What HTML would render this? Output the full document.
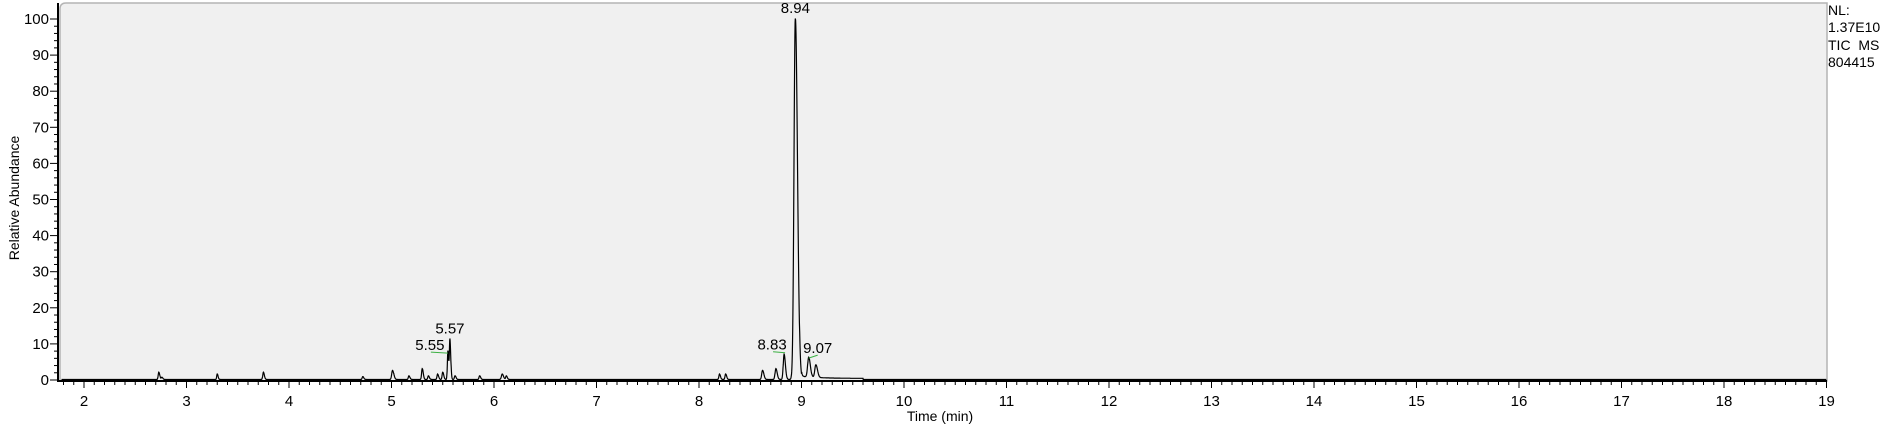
<!DOCTYPE html>
<html><head><meta charset="utf-8">
<style>
html,body{margin:0;padding:0;background:#fff;}
body{width:1885px;height:425px;overflow:hidden;font-family:"Liberation Sans",Arial,sans-serif;}
svg text{font-family:"Liberation Sans",Arial,sans-serif;white-space:pre;}
</style></head>
<body>
<svg id="chart" width="1885" height="425" xmlns="http://www.w3.org/2000/svg">
<path d="M60,381 L60,9 Q60,3 66,3 L1827,3 L1827,381 Z" fill="#f0f0f0" stroke="#b4b4b4" stroke-width="1.5"/>
<g id="ticks"></g>
<path id="trace" fill="none" stroke="#000" stroke-width="1.2"/>
<g id="labels"></g>
<text x="940" y="421" font-size="14" text-anchor="middle">Time (min)</text>
<text x="19" y="198" font-size="14" text-anchor="middle" transform="rotate(-90 19 198)">Relative Abundance</text>
<text x="1828" y="15" font-size="14">NL:</text>
<text x="1828" y="32" font-size="14">1.37E10</text>
<text x="1828" y="50" font-size="14" xml:space="preserve">TIC  MS</text>
<text x="1828" y="67" font-size="14">804415</text>
</svg>
<script>
const xTicks=[2,3,4,5,6,7,8,9,10,11,12,13,14,15,16,17,18,19];
const yTicks=[0,10,20,30,40,50,60,70,80,90,100];
const peakTimes=[2.73,2.76,3.30,3.75,4.72,5.01,5.17,5.30,5.36,5.45,5.50,5.55,5.57,5.62,5.86,6.08,6.12,8.20,8.26,8.62,8.75,8.83,8.94,9.07,9.14];
const peakHeights=[2.0,0.6,1.5,2.0,0.8,2.5,1.0,3.0,1.0,1.5,2.0,8.0,11.0,1.0,1.0,1.5,1.0,1.5,1.5,2.5,3.0,7.0,100,5.5,3.5];
const peakWidths=[0.006,0.006,0.005,0.006,0.006,0.008,0.006,0.006,0.006,0.006,0.006,0.005,0.005,0.006,0.006,0.008,0.006,0.006,0.006,0.008,0.008,0.008,0.013,0.01,0.01];
const labelTimes=[5.55,5.57,8.83,8.94,9.07];
const labelHeights=[8.0,11.0,7.0,100,5.5];
const tailStart=9.0, tailEnd=9.6, tailLevel=0.6;

const X0=84, PX=102.5, Y0=380, PY=3.61;
const xs=t=>X0+(t-2)*PX;
const ys=v=>Y0-v*PY;
const NS="http://www.w3.org/2000/svg";
const tg=document.getElementById('ticks');
function line(x1,y1,x2,y2,name,w,parent,color){
  const l=document.createElementNS(NS,'line');
  l.setAttribute('x1',x1);l.setAttribute('y1',y1);l.setAttribute('x2',x2);l.setAttribute('y2',y2);
  l.setAttribute('stroke',color||'#000');l.setAttribute('stroke-width',w||1);
  
  
  (parent||tg).appendChild(l);return l;
}
function txt(x,y,s,anchor,name,parent,size){
  const t=document.createElementNS(NS,'text');
  t.setAttribute('x',x);t.setAttribute('y',y);t.setAttribute('font-size',size||15);
  t.setAttribute('text-anchor',anchor);t.textContent=s;
  
  
  parent.appendChild(t);return t;
}
line(58,3,58,382,'y-axis-line',2);
line(58,381,1827,381,'x-axis-line',2);
for(let i=18;i<=190;i++){
  const t=i/10;const x=xs(t);
  if(x<59||x>1827)continue;
  const major=(i%10===0);
  line(x,381,x,major?388:385,major?'x-major-tick':'x-minor-tick',1);
}
xTicks.forEach(t=>{txt(xs(t),406,String(t),'middle','x-tick-label',tg);});
for(let v=0;v<=100;v+=2){
  const major=(v%10===0);
  line(major?50:54,ys(v),58,ys(v),major?'y-major-tick':'y-minor-tick',1);
}
yTicks.forEach(v=>{txt(49,ys(v)+5,String(v),'end','y-tick-label',tg);});
let d='';
for(let t=1.78;t<=19.0;t+=0.002){
  let v=0.15;
  for(let k=0;k<peakTimes.length;k++){
    const dt=t-peakTimes[k];const w=peakWidths[k]*(dt>0?1.6:1);
    if(Math.abs(dt)<w*6)v+=peakHeights[k]*Math.exp(-dt*dt/(2*w*w));
  }
  if(t>tailStart&&t<tailEnd)v+=tailLevel*Math.exp(-(t-tailStart)*6)+0.3;
  const x=xs(t);if(x<60)continue;
  d+=(d?'L':'M')+x.toFixed(1)+','+ys(v).toFixed(1);
}
document.getElementById('trace').setAttribute('d',d);
const lg=document.getElementById('labels');
labelTimes.forEach((t,i)=>{
  const h=labelHeights[i];
  const px=xs(t),py=ys(h);
  let x=px,y=py-5;
  if(t===5.55){x=px-18;y=py-1;line(px-17,py+1,px,py+2,'peak-label-marker',1,lg,'#3cb043');}
  if(t===5.57){x=px;y=py-7;}
  if(t===8.83){x=px-12;y=py-5;line(px-11,py-3,px+1,py-2,'peak-label-marker',1,lg,'#3cb043');}
  if(t===8.94){x=px;y=13;}
  if(t===9.07){x=px+9;y=py-7;line(px,py-2,px+9,py-5,'peak-label-marker',1,lg,'#3cb043');}
  txt(x,y,t.toFixed(2),'middle','peak-label',lg,15);
});
</script>
</body></html>
